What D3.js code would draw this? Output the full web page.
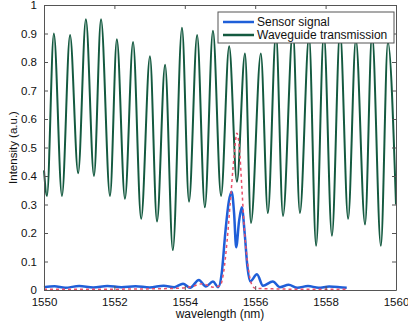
<!DOCTYPE html>
<html>
<head>
<meta charset="utf-8">
<script src="https://cdn.jsdelivr.net/npm/d3@7"></script>
<style>
  html, body { margin: 0; padding: 0; background: #fff; }
  #chart { width: 408px; height: 326px; }
  text { font-family: "Liberation Sans", Arial, sans-serif; fill: #111; }
</style>
</head>
<body>
<div id="chart"></div>
<script>

// ---- data ----

const xTicks = [1550, 1552, 1554, 1556, 1558, 1560];
const yTicks = [0, 0.1, 0.2, 0.3, 0.4, 0.5, 0.6, 0.7, 0.8, 0.9, 1];
const yTickLabels = ['0', '0.1', '0.2', '0.3', '0.4', '0.5', '0.6', '0.7', '0.8', '0.9', '1'];

const seriesNames = ['Sensor signal', 'Waveguide transmission'];

// waveguide transmission: peaks and troughs
const guideWl = [
  1550.0, 1550.085, 1550.28, 1550.51, 1550.74, 1550.97, 1551.19, 1551.42, 1551.62, 1551.875,
  1552.07, 1552.30, 1552.53, 1552.76, 1553.01, 1553.21, 1553.44, 1553.66, 1553.92, 1554.12,
  1554.35, 1554.57, 1554.80, 1555.03, 1555.26, 1555.48, 1555.71, 1555.88, 1556.16, 1556.36,
  1556.59, 1556.79, 1557.07, 1557.27, 1557.53, 1557.73, 1557.95, 1558.18, 1558.41, 1558.64,
  1558.86, 1559.12, 1559.32, 1559.57, 1559.77, 1560.0
];
const guideVal = [
  0.42, 0.33, 0.90, 0.33, 0.895, 0.41, 0.95, 0.40, 0.95, 0.33,
  0.88, 0.32, 0.87, 0.25, 0.82, 0.24, 0.79, 0.14, 0.92, 0.31,
  0.895, 0.29, 0.91, 0.33, 0.855, 0.38, 0.83, 0.235, 0.83, 0.27,
  0.90, 0.26, 0.91, 0.27, 0.89, 0.155, 0.90, 0.19, 0.91, 0.25,
  0.88, 0.23, 0.90, 0.155, 0.87, 0.30
];

// sensor signal (measured)
const sensorWl = [
  1550.0, 1550.3, 1550.6, 1551.0, 1551.4, 1551.8, 1552.2, 1552.6, 1553.0, 1553.4,
  1553.7, 1553.95, 1554.15, 1554.4, 1554.6, 1554.8, 1554.95, 1555.05, 1555.15, 1555.25,
  1555.33, 1555.4, 1555.46, 1555.54, 1555.62, 1555.7, 1555.78, 1555.86, 1556.05, 1556.22,
  1556.5, 1556.7, 1556.95, 1557.2, 1557.5, 1557.8, 1558.1, 1558.4, 1558.6
];
const sensorVal = [
  0.010, 0.013, 0.008, 0.014, 0.009, 0.014, 0.010, 0.013, 0.009, 0.015,
  0.010, 0.022, 0.008, 0.035, 0.012, 0.030, 0.010, 0.060, 0.200, 0.310,
  0.345, 0.270, 0.150, 0.240, 0.290, 0.200, 0.080, 0.030, 0.055, 0.015,
  0.030, 0.010, 0.018, 0.008, 0.014, 0.008, 0.012, 0.010, 0.008
];

// simulated response (red dashed)
const simWl = [
  1550.0, 1551.0, 1552.0, 1553.0, 1553.8, 1554.2, 1554.5, 1554.8, 1555.0, 1555.1,
  1555.2, 1555.3, 1555.4, 1555.48, 1555.55, 1555.62, 1555.7, 1555.8, 1555.9, 1556.0,
  1556.5, 1557.0, 1557.5, 1558.0, 1558.6
];
const simVal = [
  0.003, 0.003, 0.003, 0.004, 0.006, 0.012, 0.022, 0.010, 0.015, 0.060,
  0.170, 0.320, 0.470, 0.550, 0.500, 0.360, 0.200, 0.080, 0.020, 0.006,
  0.004, 0.003, 0.003, 0.003, 0.003
];

// ---- chart ----

const width = 408;
const height = 326;
const margin = {top: 5, right: 12, bottom: 36, left: 44};
const innerW = width - margin.left - margin.right;
const innerH = height - margin.top - margin.bottom;

let chartSVG = null;
let chartGroup = null;
let xScale = null;
let yScale = null;

function appendSVG() {
  chartSVG = d3.select('#chart')
    .append('svg')
    .attr('width', width)
    .attr('height', height);

  chartGroup = chartSVG.append('g')
    .attr('transform', 'translate(' + margin.left + ',' + margin.top + ')');
}

function createScales() {
  xScale = d3.scaleLinear()
    .domain([1550, 1560])
    .range([0, innerW]);

  yScale = d3.scaleLinear()
    .domain([0, 1])
    .range([innerH, 0]);
}

function pairs(xs, ys) {
  return xs.map((x, i) => ({x: x, y: ys[i]}));
}

function drawLines() {
  const line = d3.line()
    .x(d => xScale(d.x))
    .y(d => yScale(d.y))
    .curve(d3.curveMonotoneX);

  chartGroup.append('path')
    .datum(pairs(guideWl, guideVal))
    .attr('fill', 'none')
    .attr('stroke', '#145a40')
    .attr('stroke-width', 2)
    .attr('stroke-linejoin', 'round')
    .attr('d', line);

  chartGroup.append('path')
    .datum(pairs(sensorWl, sensorVal))
    .attr('fill', 'none')
    .attr('stroke', '#1f5fd8')
    .attr('stroke-width', 2.5)
    .attr('stroke-linejoin', 'round')
    .attr('d', line);

  chartGroup.append('path')
    .datum(pairs(simWl, simVal))
    .attr('fill', 'none')
    .attr('stroke', '#e8506a')
    .attr('stroke-width', 1.5)
    .attr('stroke-dasharray', '3,3')
    .attr('d', line);
}

function attachAxes() {
  const tick = 4;

  const bottom = chartGroup.append('g')
    .attr('transform', 'translate(0,' + innerH + ')')
    .call(d3.axisBottom(xScale).tickValues(xTicks).tickFormat(d3.format('d'))
      .tickSizeInner(-tick).tickSizeOuter(0).tickPadding(8));

  const left = chartGroup.append('g')
    .call(d3.axisLeft(yScale).tickValues(yTicks).tickFormat((d, i) => yTickLabels[i])
      .tickSizeInner(-tick).tickSizeOuter(0).tickPadding(7));

  chartGroup.append('g')
    .call(d3.axisTop(xScale).tickValues(xTicks).tickFormat('')
      .tickSizeInner(-tick).tickSizeOuter(0));

  chartGroup.append('g')
    .attr('transform', 'translate(' + innerW + ',0)')
    .call(d3.axisRight(yScale).tickValues(yTicks).tickFormat('')
      .tickSizeInner(-tick).tickSizeOuter(0));

  chartGroup.selectAll('.domain, .tick line')
    .attr('stroke', '#555')
    .attr('stroke-width', 1);

  bottom.selectAll('text').attr('font-size', 11.5).style('font-family', 'Liberation Sans, Arial, sans-serif');
  left.selectAll('text').attr('font-size', 11.5).style('font-family', 'Liberation Sans, Arial, sans-serif');

  // axis titles
  chartSVG.append('text')
    .attr('x', margin.left + innerW / 2)
    .attr('y', 318)
    .attr('text-anchor', 'middle')
    .attr('font-size', 12)
    .text('wavelength (nm)');

  chartSVG.append('text')
    .attr('transform', 'translate(17,' + (margin.top + innerH / 2) + ') rotate(-90)')
    .attr('text-anchor', 'middle')
    .attr('font-size', 11.5)
    .text('Intensity (a.u.)');
}

function drawLegend() {
  const legend = chartSVG.append('g')
    .attr('transform', 'translate(218,12)');

  legend.append('rect')
    .attr('width', 176)
    .attr('height', 31)
    .attr('fill', '#fff')
    .attr('stroke', '#555')
    .attr('stroke-width', 1);

  const colors = ['#1f5fd8', '#145a40'];
  seriesNames.forEach((name, i) => {
    const y = 10 + i * 13;
    legend.append('line')
      .attr('x1', 5).attr('x2', 36)
      .attr('y1', y).attr('y2', y)
      .attr('stroke', colors[i])
      .attr('stroke-width', 2.5);
    legend.append('text')
      .attr('x', 39)
      .attr('y', y + 4)
      .attr('font-size', 12)
      .text(name);
  });
}

appendSVG();
createScales();
drawLines();
attachAxes();
drawLegend();

</script>
</body>
</html>
